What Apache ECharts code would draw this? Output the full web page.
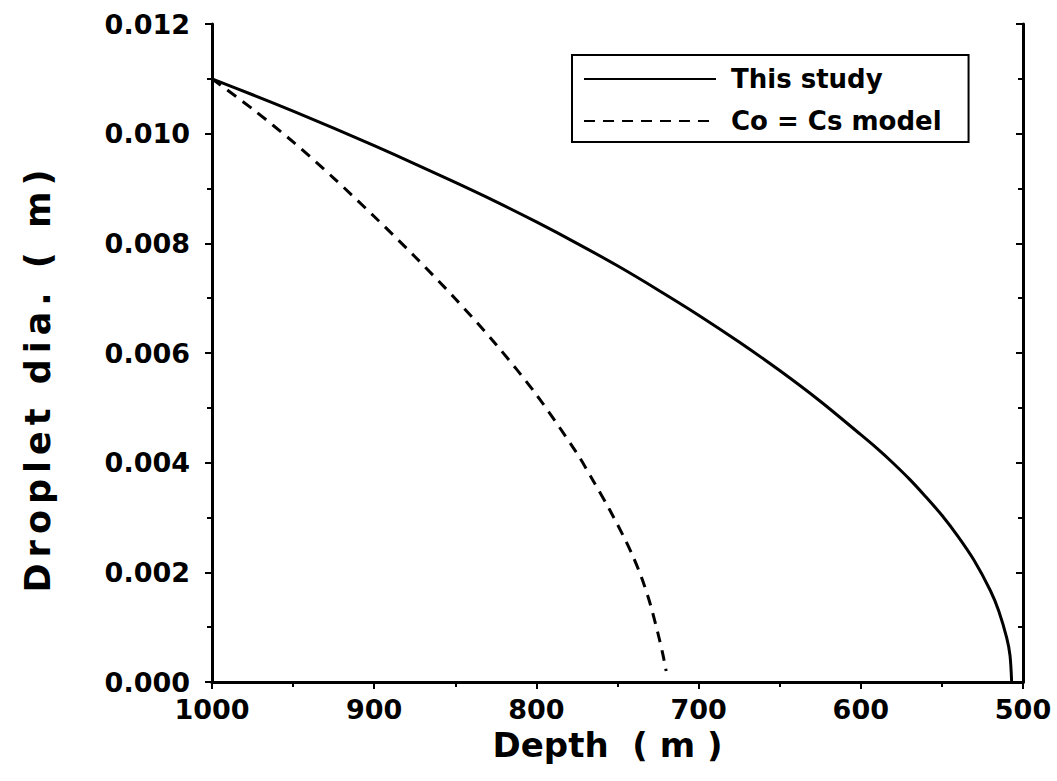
<!DOCTYPE html>
<html>
<head>
<meta charset="utf-8">
<script src="https://cdn.jsdelivr.net/npm/echarts@6/dist/echarts.min.js"></script>
<style>
html,body{margin:0;padding:0;background:#fff;}
#chart{width:1057px;height:781px;}
</style>
</head>
<body>
<div id="chart"></div>
<script>
// Data
var seriesNames = ['This study', 'Co = Cs model'];
var depthStudy = [1000, 975, 950, 925, 900, 875, 850, 825, 800, 775, 750, 725, 700, 675, 650, 625, 600, 590, 580, 570, 560, 550, 540, 530, 520, 515, 510, 508, 507];
var diaStudy   = [0.01100, 0.01071, 0.01041, 0.01010, 0.00978, 0.00945, 0.00911, 0.00876, 0.00839, 0.00800, 0.00759, 0.00715, 0.00669, 0.00620, 0.00568, 0.00512, 0.00451, 0.00426, 0.00399, 0.00370, 0.00338, 0.00304, 0.00265, 0.00221, 0.00166, 0.00130, 0.00080, 0.00048, 0.00000];
var depthModel = [1000, 975, 950, 925, 900, 875, 850, 825, 800, 775, 765, 755, 745, 740, 735, 730, 725, 722, 720];
var diaModel   = [0.01100, 0.01045, 0.00985, 0.00919, 0.00849, 0.00776, 0.00699, 0.00616, 0.00524, 0.00417, 0.00367, 0.00315, 0.00258, 0.00226, 0.00189, 0.00144, 0.00088, 0.00050, 0.00020];
var xTicks = [1000, 900, 800, 700, 600, 500];
var yTicks = ['0.000', '0.002', '0.004', '0.006', '0.008', '0.010', '0.012'];
var xTitle = 'Depth  ( m )';
var yTitle = 'Droplet dia. ( m)';

function pairs(xs, ys) { return xs.map(function (x, i) { return [x, ys[i]]; }); }

var FONT = 'DejaVu Sans';
var axisLineStyle = { color: '#000', width: 3 };
var tickStyle = { color: '#000', width: 2 };

var chart = echarts.init(document.getElementById('chart'), null, { renderer: 'svg' });
chart.setOption({
  backgroundColor: '#fff',
  animation: false,
  grid: { left: 212, right: 34, top: 24, bottom: 99, containLabel: false },
  graphic: [{
    type: 'text', x: 38, y: 378, rotation: Math.PI / 2, silent: true,
    style: { text: yTitle, fontFamily: FONT, fontWeight: 'bold', fontSize: 35, fill: '#000',
      textAlign: 'center', textVerticalAlign: 'middle' }
  }],
  legend: {
    data: seriesNames,
    orient: 'vertical',
    left: 572,
    top: 55,
    itemWidth: 132,
    itemHeight: 14,
    itemGap: 16,
    padding: [11, 27, 8, 11],
    borderColor: '#000',
    borderWidth: 2,
    backgroundColor: '#fff',
    itemStyle: { opacity: 0 },
    textStyle: { fontFamily: FONT, fontWeight: 'bold', fontSize: 26, color: '#000', padding: [0, 0, 0, 10] }
  },
  xAxis: [{
    type: 'value', position: 'bottom', min: 500, max: 1000, interval: 100, inverse: true,
    name: xTitle, nameLocation: 'middle', nameGap: 44,
    nameTextStyle: { fontFamily: FONT, fontWeight: 'bold', fontSize: 34, color: '#000', padding: [0, 20, 0, 0] },
    axisLine: { show: true, lineStyle: axisLineStyle },
    axisTick: { show: true, inside: false, length: 7, lineStyle: tickStyle },
    minorTick: { show: true, splitNumber: 2, length: 5, lineStyle: tickStyle },
    axisLabel: { fontFamily: FONT, fontWeight: 'bold', fontSize: 27, color: '#000', margin: 14,
      formatter: function (v) { return xTicks.indexOf(v) >= 0 ? String(v) : ''; } },
    splitLine: { show: false }
  }, {
    type: 'value', position: 'top', min: 500, max: 1000, interval: 100, inverse: true,
    axisLine: { show: true, lineStyle: axisLineStyle },
    axisTick: { show: true, inside: true, length: 7, lineStyle: tickStyle },
    minorTick: { show: true, splitNumber: 2, length: 5, lineStyle: tickStyle },
    axisLabel: { show: false },
    splitLine: { show: false }
  }],
  yAxis: [{
    type: 'value', position: 'left', min: 0, max: 0.012, interval: 0.002,
    axisLine: { show: true, lineStyle: axisLineStyle },
    axisTick: { show: true, inside: false, length: 7, lineStyle: tickStyle },
    minorTick: { show: true, splitNumber: 2, length: 5, lineStyle: tickStyle },
    axisLabel: { fontFamily: FONT, fontWeight: 'bold', fontSize: 27, color: '#000', margin: 22,
      formatter: function (v) { var i = Math.round(v / 0.002); return yTicks[i] || ''; } },
    splitLine: { show: false }
  }, {
    type: 'value', position: 'right', min: 0, max: 0.012, interval: 0.002,
    axisLine: { show: true, lineStyle: axisLineStyle },
    axisTick: { show: true, inside: true, length: 7, lineStyle: tickStyle },
    minorTick: { show: true, splitNumber: 2, length: 5, lineStyle: tickStyle },
    axisLabel: { show: false },
    splitLine: { show: false }
  }],
  series: [{
    name: seriesNames[0], type: 'line', xAxisIndex: 0, yAxisIndex: 0,
    data: pairs(depthStudy, diaStudy), symbol: 'none', smooth: 0.3,
    lineStyle: { color: '#000', width: 3, type: 'solid' },
    itemStyle: { color: '#000' }
  }, {
    name: seriesNames[1], type: 'line', xAxisIndex: 0, yAxisIndex: 0,
    data: pairs(depthModel, diaModel), symbol: 'none', smooth: 0.3,
    lineStyle: { color: '#000', width: 3, type: [11, 8] },
    itemStyle: { color: '#000' }
  }]
});

// The reference's vertical axis title is letter-spaced
function spaceTitle() {
  var texts = document.querySelectorAll('#chart text');
  for (var i = 0; i < texts.length; i++) {
    if (texts[i].textContent === yTitle) {
      texts[i].setAttribute('letter-spacing', '6');
    }
  }
}
spaceTitle();
chart.on('finished', spaceTitle);
</script>
</body>
</html>
